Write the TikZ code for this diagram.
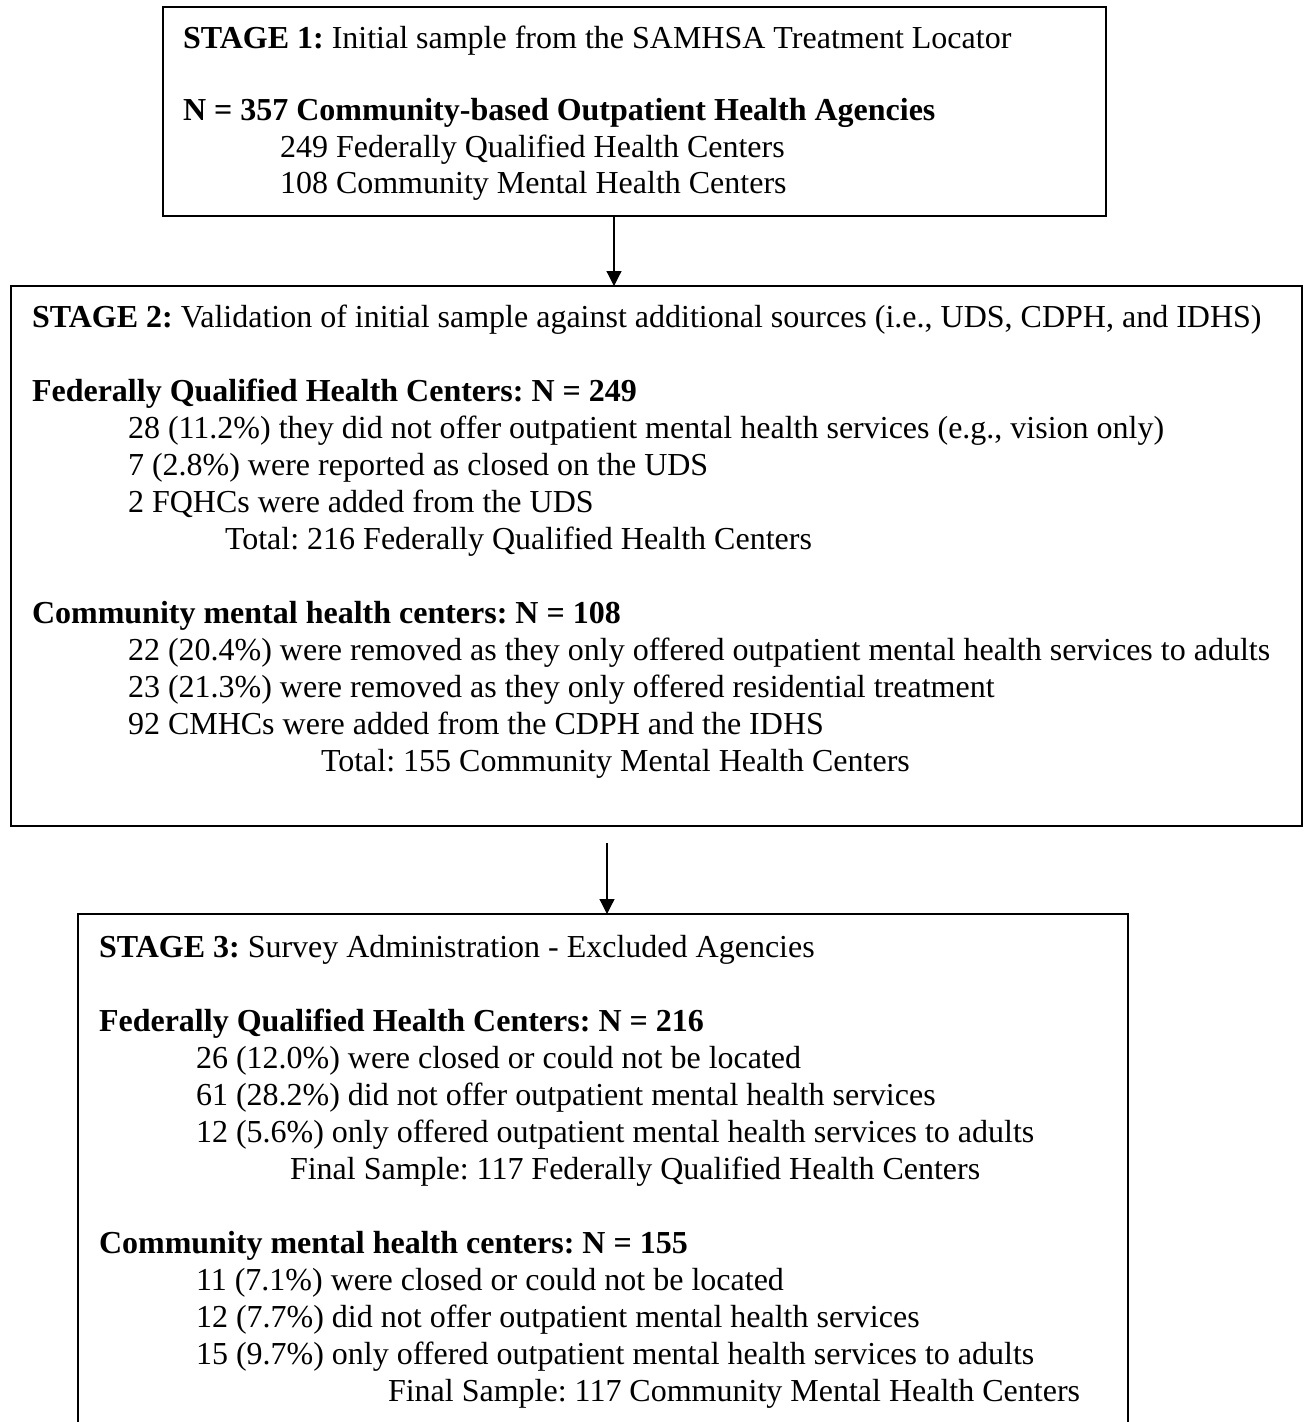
\documentclass[tikz,border=0pt]{standalone}
\usepackage{fontspec}
\setmainfont{Liberation Serif}
\usetikzlibrary{arrows.meta}
\frenchspacing
\tikzset{
  box/.style={draw, line width=2.4pt, inner sep=0pt, outer sep=0pt},
  txt/.style={anchor=base west, inner sep=0pt, outer sep=0pt, font=\fontsize{32}{37}\selectfont\frenchspacing},
  arr/.style={-{Triangle[width=15pt,length=15pt]}, line width=1.2pt}
}
\begin{document}
\begin{tikzpicture}[x=1pt,y=-1pt]
\useasboundingbox (0,0) rectangle (1304,1422);
\clip (0,0) rectangle (1304,1422);
% boxes
\node[box, minimum width=943pt, minimum height=209pt] (s1) at (634.5,111.5) {};
\node[box, minimum width=1291pt, minimum height=540pt] (s2) at (656.5,556) {};
\node[box, minimum width=1050pt, minimum height=536pt] (s3) at (603,1182) {};
% connectors
\coordinate (a1) at (614,0);
\draw[arr] (s1.south -| a1) -- (s2.north -| a1);
\coordinate (a2) at (607,843);
\draw[arr] (a2) -- (a2 |- s3.north);
% stage 1 text
\node[txt] (t11) at (183,48) {\textbf{STAGE 1:} Initial sample from the SAMHSA Treatment Locator};
\node[txt] (t12) at (183,120) {\textbf{N = 357 Community-based Outpatient Health Agencies}};
\node[txt] (t13) at (280,157) {249 Federally Qualified Health Centers};
\node[txt] (t14) at (280,193) {108 Community Mental Health Centers};
% stage 2 text
\node[txt] (t21) at (32,327) {\textbf{STAGE 2:} Validation of initial sample against additional sources (i.e., UDS, CDPH, and IDHS)};
\node[txt] (t22) at (32,401) {\textbf{Federally Qualified Health Centers: N = 249}};
\node[txt] (t23) at (128,438) {28 (11.2\%) they did not offer outpatient mental health services (e.g., vision only)};
\node[txt] (t24) at (128,475) {7 (2.8\%) were reported as closed on the UDS};
\node[txt] (t25) at (128,512) {2 FQHCs were added from the UDS};
\node[txt] (t26) at (225,549) {Total: 216 Federally Qualified Health Centers};
\node[txt] (t27) at (32,623) {\textbf{Community mental health centers: N = 108}};
\node[txt] (t28) at (128,660) {22 (20.4\%) were removed as they only offered outpatient mental health services to adults};
\node[txt] (t29) at (128,697) {23 (21.3\%) were removed as they only offered residential treatment};
\node[txt] (t2a) at (128,734) {92 CMHCs were added from the CDPH and the IDHS};
\node[txt] (t2b) at (321,771) {Total: 155 Community Mental Health Centers};
% stage 3 text
\node[txt] (t31) at (99,957) {\textbf{STAGE 3:} Survey Administration - Excluded Agencies};
\node[txt] (t32) at (99,1031) {\textbf{Federally Qualified Health Centers: N = 216}};
\node[txt] (t33) at (196,1068) {26 (12.0\%) were closed or could not be located};
\node[txt] (t34) at (196,1105) {61 (28.2\%) did not offer outpatient mental health services};
\node[txt] (t35) at (196,1142) {12 (5.6\%) only offered outpatient mental health services to adults};
\node[txt] (t36) at (290,1179) {Final Sample: 117 Federally Qualified Health Centers};
\node[txt] (t37) at (99,1253) {\textbf{Community mental health centers: N = 155}};
\node[txt] (t38) at (196,1290) {11 (7.1\%) were closed or could not be located};
\node[txt] (t39) at (196,1327) {12 (7.7\%) did not offer outpatient mental health services};
\node[txt] (t3a) at (196,1364) {15 (9.7\%) only offered outpatient mental health services to adults};
\node[txt] (t3b) at (388,1401) {Final Sample: 117 Community Mental Health Centers};
\end{tikzpicture}
\end{document}
